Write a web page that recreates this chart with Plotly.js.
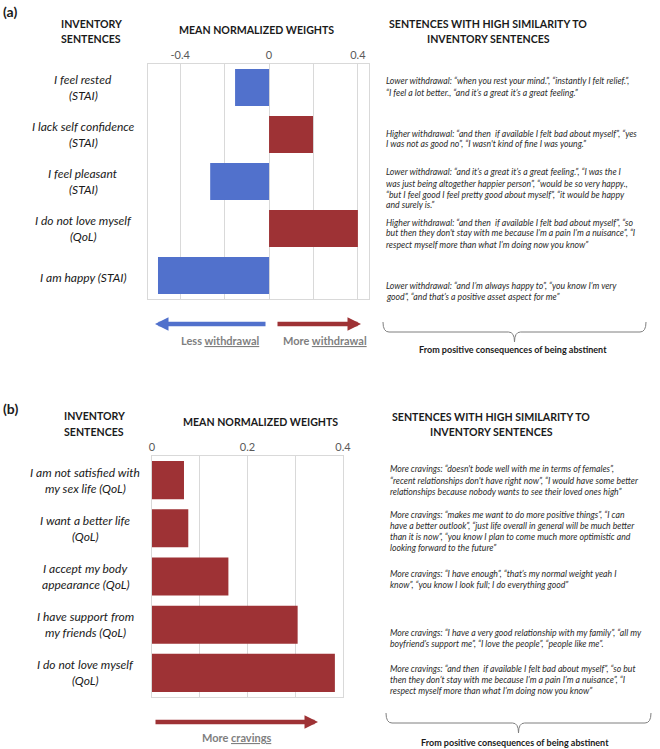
<!DOCTYPE html>
<html>
<head>
<meta charset="utf-8">
<script src="https://cdn.plot.ly/plotly-3.0.1.min.js"></script>
<style>html,body{margin:0;padding:0;background:#fff;}#chart{width:660px;height:749px;}</style>
</head>
<body>
<div id="chart"></div>
<script>
// ---------- DATA ----------
const catsA = ['I feel rested (STAI)', 'I lack self confidence (STAI)', 'I feel pleasant (STAI)', 'I do not love myself (QoL)', 'I am happy (STAI)'];
const labelsA = [['I feel rested', '(STAI)'], ['I lack self confidence', '(STAI)'], ['I feel pleasant', '(STAI)'], ['I do not love myself', '(QoL)'], ['I am happy (STAI)']];
const valsA = [-0.153, 0.198, -0.265, 0.40, -0.50];
const tickValsA = [-0.4, -0.2, 0, 0.2, 0.4];
const tickTextA = ['-0.4', '', '0', '', '0.4'];

const catsB = ['I am not satisfied with my sex life (QoL)', 'I want a better life (QoL)', 'I accept my body appearance (QoL)', 'I have support from my friends (QoL)', 'I do not love myself (QoL)'];
const labelsB = [['I am not satisfied with', 'my sex life (QoL)'], ['I want a better life', '(QoL)'], ['I accept my body', 'appearance (QoL)'], ['I have support from', 'my friends (QoL)'], ['I do not love myself', '(QoL)']];
const valsB = [0.067, 0.076, 0.160, 0.305, 0.383];
const tickValsB = [0, 0.1, 0.2, 0.3, 0.4];
const tickTextB = ['0', '', '0.2', '', '0.4'];

const quotesA = [
  [`Lower withdrawal: “when you rest your mind.”, “instantly I felt relief.”,`, `“I feel a lot better., “and it’s a great it’s a great feeling.”`],
  [`Higher withdrawal: “and then  if available I felt bad about myself”, “yes`, `I was not as good no”, “I wasn't kind of fine I was young.”`],
  [`Lower withdrawal: “and it’s a great it’s a great feeling.”, “I was the I`, `was just being altogether happier person”, “would be so very happy.,`, `“but I feel good I feel pretty good about myself”, “it would be happy`, `and surely is.”`],
  [`Higher withdrawal: “and then  if available I felt bad about myself”, “so`, `but then they don't stay with me because I’m a pain I’m a nuisance”, “I`, `respect myself more than what I’m doing now you know”`],
  [`Lower withdrawal: “and I’m always happy to”, “you know I’m very`, `good”, “and that’s a positive asset aspect for me”`]
];
const quotesB = [
  [`More cravings: “doesn't bode well with me in terms of females”,`, `“recent relationships don't have right now”, “I would have some better`, `relationships because nobody wants to see their loved ones high”`],
  [`More cravings: “makes me want to do more positive things”, “I can`, `have a better outlook”, “just life overall in general will be much better`, `than it is now”, “you know I plan to come much more optimistic and`, `looking forward to the future”`],
  [`More cravings: “I have enough”, “that’s my normal weight yeah I`, `know”, “you know I look full; I do everything good”`],
  [`More cravings: “I have a very good relationship with my family”, “all my`, `boyfriend’s support me”, “I love the people”, “people like me”.`],
  [`More cravings: “and then  if available I felt bad about myself”, “so but`, `then they don’t stay with me because I’m a pain I’m a nuisance”, “I`, `respect myself more than what I’m doing now you know”`]
];

// ---------- STYLE / LAYOUT ----------
const W = 660, H = 749;
const X = p => p / W, Y = p => 1 - p / H;
const BLUE = '#5171CC', RED = '#9E3235', GRID = '#d9d9d9';
const FONT = 'Lato, "Open Sans", sans-serif';
const TXT = '#1a1a1a';

const traces = [
  {type: 'bar', orientation: 'h', y: catsA, x: valsA, xaxis: 'x', yaxis: 'y', width: 0.79,
   marker: {color: valsA.map(v => v < 0 ? BLUE : RED), line: {width: 0}}, hoverinfo: 'skip'},
  {type: 'bar', orientation: 'h', y: catsB, x: valsB, xaxis: 'x2', yaxis: 'y2', width: 0.79,
   marker: {color: RED, line: {width: 0}}, hoverinfo: 'skip'}
];

const axCommon = {showline: true, mirror: true, linecolor: GRID, linewidth: 1, zeroline: false, fixedrange: true};
const layout = {
  width: W, height: H, margin: {l: 0, r: 0, t: 0, b: 0},
  paper_bgcolor: '#fff', plot_bgcolor: '#fff', showlegend: false,
  font: {family: FONT, color: TXT},
  xaxis: Object.assign({}, axCommon, {domain: [X(148), X(369)], range: [-0.545, 0.45], side: 'top', anchor: 'y',
    tickmode: 'array', tickvals: tickValsA, ticktext: tickTextA, ticks: '', showgrid: true, gridcolor: GRID,
    tickfont: {size: 11, color: '#595959', family: FONT}}),
  yaxis: Object.assign({}, axCommon, {domain: [Y(299), Y(64)], type: 'category', range: [4.5, -0.5], anchor: 'x',
    showticklabels: false, showgrid: false}),
  xaxis2: Object.assign({}, axCommon, {domain: [X(152), X(343)], range: [0, 0.4], side: 'top', anchor: 'y2',
    tickmode: 'array', tickvals: tickValsB, ticktext: tickTextB, ticks: '', showgrid: true, gridcolor: GRID,
    tickfont: {size: 11, color: '#595959', family: FONT}}),
  yaxis2: Object.assign({}, axCommon, {domain: [Y(697), Y(456)], type: 'category', range: [4.5, -0.5], anchor: 'x2',
    showticklabels: false, showgrid: false}),
  annotations: [], shapes: []
};

const ann = layout.annotations;
function txt(text, x, y, opts) {
  ann.push(Object.assign({text: text, x: X(x), y: Y(y), xref: 'paper', yref: 'paper', showarrow: false,
    xanchor: 'center', yanchor: 'middle', font: {family: FONT, size: 11, color: TXT}}, opts || {}));
}
const bold = (size, color) => ({font: {family: FONT, size: size, color: color || TXT, weight: 'bold'}});

// panel labels & headers
const HS = 10.6;
txt('<b>(a)</b>', 1, 12, Object.assign({xanchor: 'left'}, bold(14)));
txt('<b>(b)</b>', 1, 408, Object.assign({xanchor: 'left'}, bold(14)));
[[24, 91, 'INVENTORY'], [39, 91, 'SENTENCES'], [416, 94, 'INVENTORY'], [432, 94, 'SENTENCES']].forEach(d => txt('<b>' + d[2] + '</b>', d[1], d[0], bold(HS)));
txt('<b>MEAN NORMALIZED WEIGHTS</b>', 256, 30, bold(HS));
txt('<b>MEAN NORMALIZED WEIGHTS</b>', 260, 422, bold(HS));
[[24, 'SENTENCES WITH HIGH SIMILARITY TO'], [39, 'INVENTORY SENTENCES']].forEach(d => txt('<b>' + d[1] + '</b>', 488, d[0], bold(HS)));
[[417, 'SENTENCES WITH HIGH SIMILARITY TO'], [432, 'INVENTORY SENTENCES']].forEach(d => txt('<b>' + d[1] + '</b>', 491, d[0], bold(HS)));

// category labels
function catLabels(cats, labels, yref, xc) {
  cats.forEach((c, i) => {
    const lines = labels[i];
    lines.forEach((ln, j) => {
      const ys = lines.length === 1 ? -2 : 8 - j * 16;
      ann.push({text: '<i>' + ln + '</i>', x: X(xc), y: c, xref: 'paper', yref: yref, showarrow: false,
        xanchor: 'center', yanchor: 'middle', yshift: ys,
        font: {family: FONT, size: 12, color: TXT}});
    });
  });
}
catLabels(catsA, labelsA, 'y', 83);
catLabels(catsB, labelsB, 'y2', 85);

// quote blocks
function quotes(blocks, starts, x0) {
  blocks.forEach((lines, i) => {
    lines.forEach((ln, j) => {
      txt('<i>' + ln + '</i>', x0, starts[i] + j * 11, {xanchor: 'left', font: {family: FONT, size: 8.7, color: '#2b2b2b'}});
    });
  });
}
quotes(quotesA, [81, 133, 172, 222, 285], 384);
quotes(quotesB, [469, 514, 573, 632, 668], 388);

// arrows
function arrow(x1, x2, y, color) {
  ann.push({text: '', x: X(x2), y: Y(y), xref: 'paper', yref: 'paper', showarrow: true, ax: x1 - x2, ay: 0,
    axref: 'pixel', ayref: 'pixel', arrowhead: 2, arrowsize: 0.6, arrowwidth: 4.5, arrowcolor: color, standoff: 0, startstandoff: 0});
}
arrow(267, 155, 324, BLUE);
arrow(276, 361, 324, RED);
arrow(154, 318, 722, RED);
const U = s => '<span style="text-decoration:underline">' + s + '</span>';
txt('<b>Less ' + U('withdrawal') + '</b>', 220, 340, bold(11, '#7f7f7f'));
txt('<b>More ' + U('withdrawal') + '</b>', 325, 340, bold(11, '#7f7f7f'));
txt('<b>More ' + U('cravings') + '</b>', 236, 737, bold(11, '#7f7f7f'));

// braces
function brace(xl, xr, top, bot, tip) {
  const xm = (xl + xr) / 2;
  const P = (x, y) => X(x).toFixed(5) + ',' + Y(y).toFixed(5);
  const path = 'M ' + P(xl, top) + ' Q ' + P(xl, bot) + ' ' + P(xl + 6, bot) + ' L ' + P(xm - 6, bot) +
    ' Q ' + P(xm, bot) + ' ' + P(xm, tip) + ' Q ' + P(xm, bot) + ' ' + P(xm + 6, bot) +
    ' L ' + P(xr - 6, bot) + ' Q ' + P(xr, bot) + ' ' + P(xr, top);
  layout.shapes.push({type: 'path', xref: 'paper', yref: 'paper', path: path, line: {color: '#7f7f7f', width: 1}});
}
brace(383, 646, 322, 332, 342);
brace(386, 651, 713, 723, 733);
txt('<b>From positive consequences of being abstinent</b>', 513, 349, bold(9));
txt('<b>From positive consequences of being abstinent</b>', 515, 742, bold(9));

Plotly.newPlot('chart', traces, layout, {displayModeBar: false, staticPlot: true});
</script>
</body>
</html>
